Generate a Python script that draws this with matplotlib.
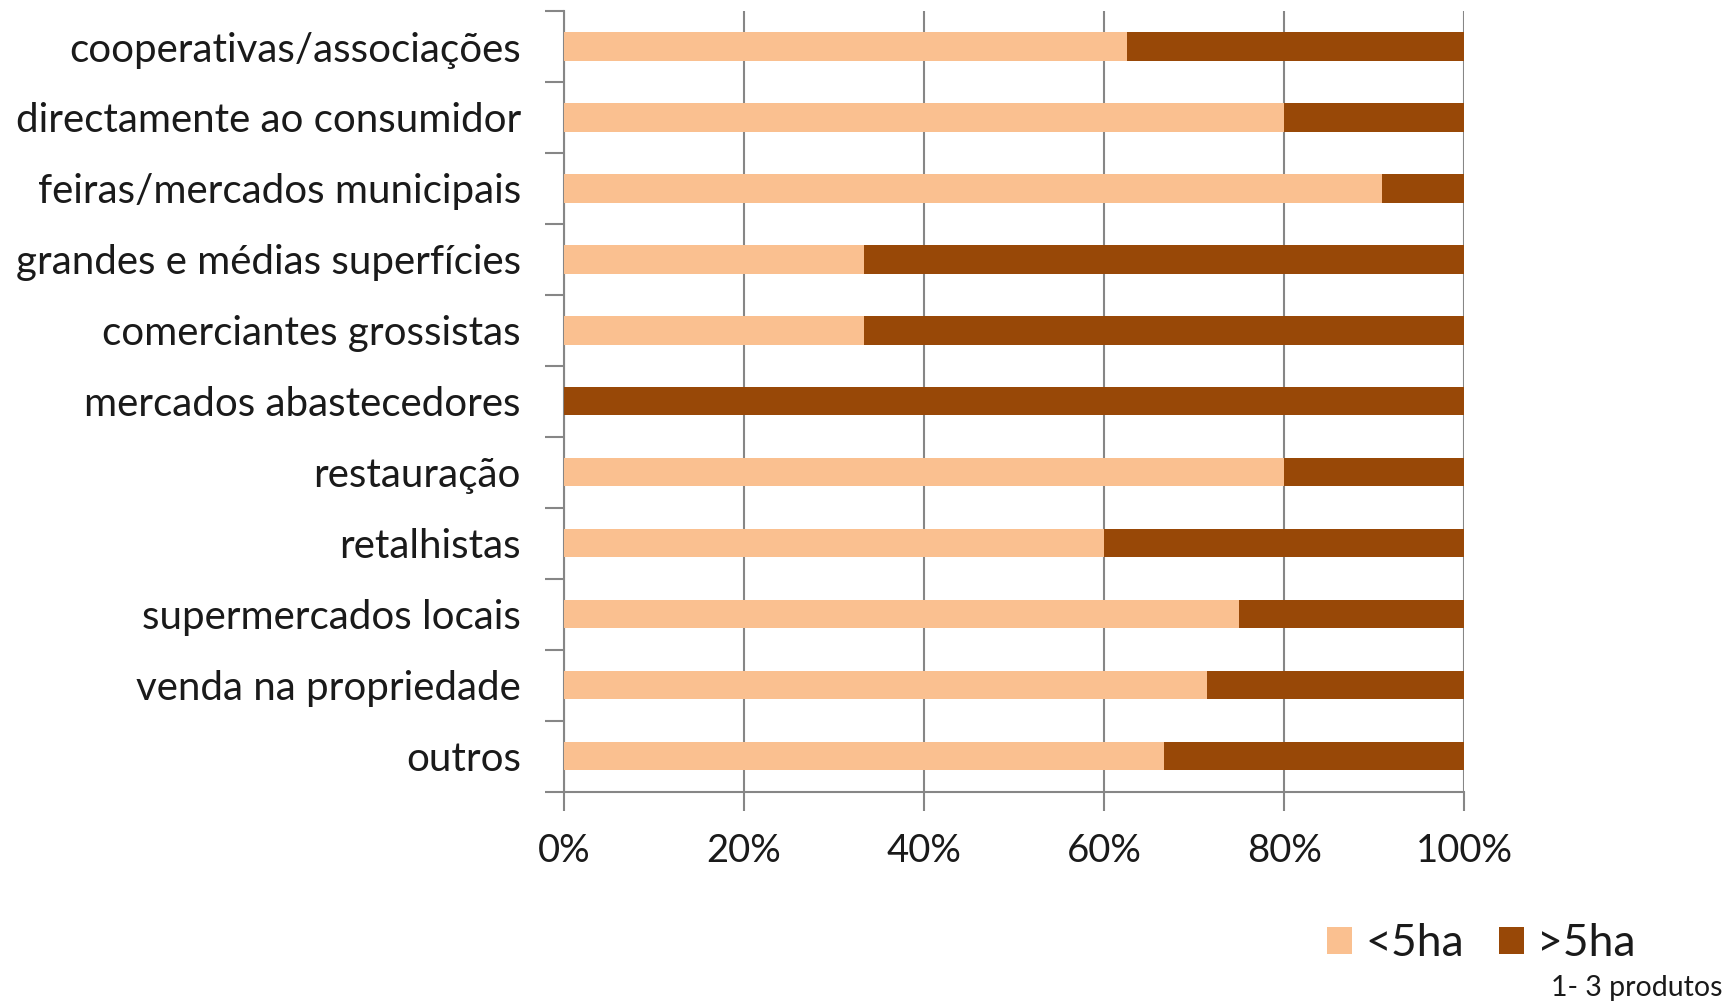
import matplotlib.pyplot as plt
from matplotlib.ticker import FixedLocator, PercentFormatter

plt.rcParams['font.family'] = ['Lato', 'DejaVu Sans']

# canais de comercialização, de cima para baixo
canais = ['cooperativas/associações', 'directamente ao consumidor',
          'feiras/mercados municipais', 'grandes e médias superfícies',
          'comerciantes grossistas', 'mercados abastecedores', 'restauração',
          'retalhistas', 'supermercados locais', 'venda na propriedade', 'outros']
menos_5ha = [62.5, 80.0, 90.9, 33.3, 33.3, 0.0, 80.0, 60.0, 75.0, 71.4, 66.7]
mais_5ha = [100 - v for v in menos_5ha]

cor_claro = '#FAC090'
cor_escuro = '#984807'
cinza = '#868686'
cor_texto = '#1a1a1a'

fig = plt.figure(figsize=(17.35, 10.02), dpi=100)
ax = fig.add_axes([0.325, 0.21, 0.519, 0.779])

pos = list(range(len(canais)))
ax.barh(pos, menos_5ha, height=0.4, color=cor_claro, label='<5ha', zorder=3)
ax.barh(pos, mais_5ha, left=menos_5ha, height=0.4, color=cor_escuro,
        label='>5ha', zorder=3)

ax.set_xlim(0, 100)
ax.set_ylim(len(canais) - 0.5, -0.5)
ax.xaxis.set_major_locator(FixedLocator([0, 20, 40, 60, 80, 100]))
ax.xaxis.set_major_formatter(PercentFormatter(decimals=0))
ax.grid(axis='x', color=cinza, linewidth=1.5, zorder=0)

# rótulos no centro, marcas nas fronteiras entre categorias
ax.set_yticks(pos)
ax.set_yticklabels(canais)
ax.set_yticks([p + 0.5 for p in range(-1, len(canais))], minor=True)
ax.tick_params(axis='y', which='major', length=0, pad=31, labelsize=29,
               labelcolor=cor_texto)
ax.tick_params(axis='y', which='minor', length=14, width=1.5, color=cinza)
ax.tick_params(axis='x', length=14, width=1.5, color=cinza, labelsize=27.5,
               pad=16, labelcolor=cor_texto)

for lado in ['top', 'right']:
    ax.spines[lado].set_visible(False)
for lado in ['left', 'bottom']:
    ax.spines[lado].set_color(cinza)
    ax.spines[lado].set_linewidth(1.5)

leg = fig.legend(loc='center left', bbox_to_anchor=(0.765, 0.058), ncol=2,
                 frameon=False, fontsize=32, handlelength=0.55, handleheight=0.55,
                 handletextpad=0.3, columnspacing=0.8, borderaxespad=0,
                 borderpad=0)
for t in leg.get_texts():
    t.set_color(cor_texto)
fig.text(0.993, 0.001, '1- 3 produtos', ha='right', va='bottom', fontsize=20.5,
         color=cor_texto)

fig.savefig('out.png', dpi=100, facecolor='white')
